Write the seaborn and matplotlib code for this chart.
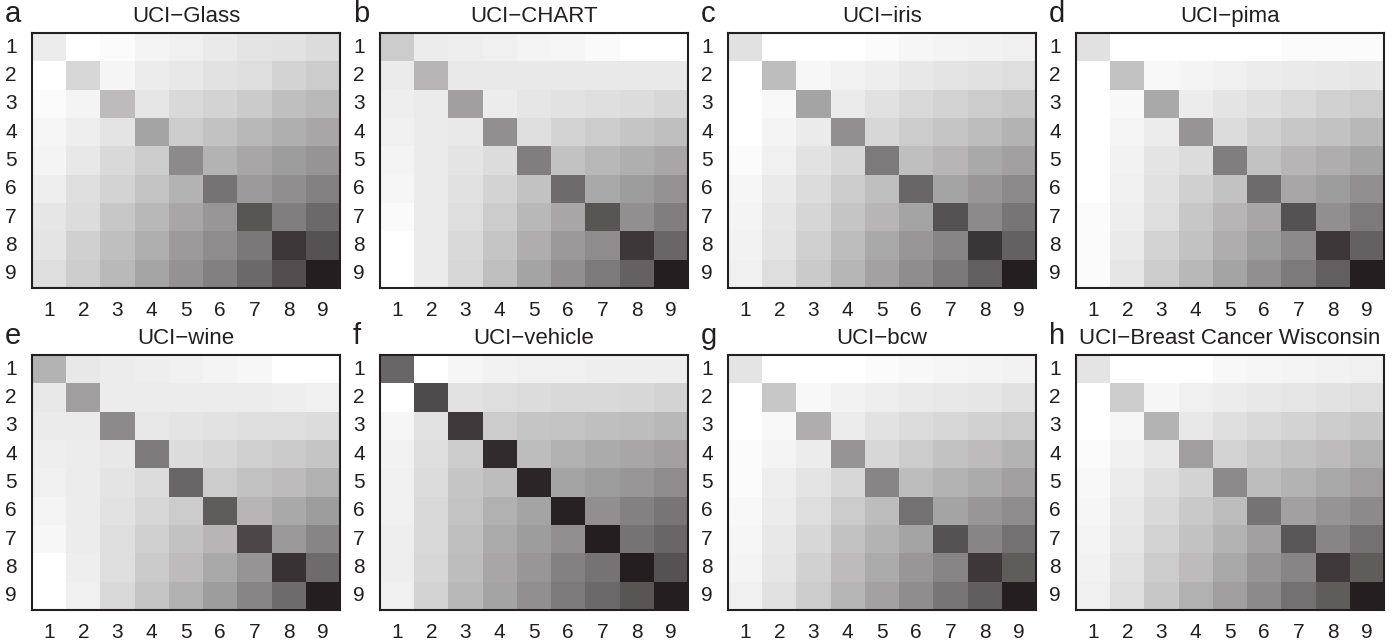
import numpy as np
import matplotlib
matplotlib.use("Agg")
import matplotlib.pyplot as plt
import seaborn as sns
from matplotlib.colors import LinearSegmentedColormap

# Darkness of each cell (0 = white, 220 = full ink), rows/cols are model orders 1..9
labels = [str(i) for i in range(1, 10)]
titles = ["UCI\u2212Glass", "UCI\u2212CHART", "UCI\u2212iris", "UCI\u2212pima",
          "UCI\u2212wine", "UCI\u2212vehicle", "UCI\u2212bcw", "UCI\u2212Breast Cancer Wisconsin"]
letters = ["a", "b", "c", "d", "e", "f", "g", "h"]

glass = [
    [19, 0, 5, 11, 15, 21, 27, 29, 35],
    [0, 40, 10, 19, 23, 29, 33, 43, 50],
    [5, 11, 67, 25, 37, 43, 51, 63, 69],
    [9, 17, 27, 90, 50, 60, 70, 79, 87],
    [12, 23, 37, 50, 115, 75, 87, 97, 105],
    [17, 33, 43, 59, 75, 137, 99, 111, 123],
    [25, 35, 55, 70, 87, 103, 167, 127, 147],
    [27, 47, 63, 79, 99, 113, 133, 195, 170],
    [33, 49, 69, 89, 107, 125, 147, 173, 220],
]
chart = [
    [50, 19, 17, 15, 12, 9, 6, 0, 0],
    [20, 73, 22, 22, 22, 22, 22, 22, 22],
    [17, 20, 95, 19, 25, 29, 31, 35, 40],
    [15, 20, 22, 110, 33, 43, 50, 57, 63],
    [12, 20, 27, 35, 127, 60, 70, 79, 87],
    [9, 20, 30, 43, 60, 145, 85, 97, 107],
    [6, 20, 33, 50, 70, 87, 167, 110, 127],
    [0, 20, 37, 57, 80, 100, 113, 195, 150],
    [0, 20, 40, 63, 90, 110, 130, 155, 220],
]
iris = [
    [30, 0, 0, 0, 5, 9, 11, 13, 15],
    [0, 65, 8, 13, 17, 23, 27, 30, 33],
    [0, 7, 90, 20, 30, 37, 43, 50, 55],
    [0, 11, 20, 110, 40, 50, 57, 65, 75],
    [5, 15, 29, 40, 130, 63, 73, 85, 93],
    [9, 21, 35, 50, 63, 150, 90, 103, 115],
    [11, 25, 41, 57, 73, 90, 170, 115, 135],
    [13, 27, 47, 65, 85, 103, 120, 197, 155],
    [15, 33, 52, 72, 92, 112, 132, 157, 220],
]
pima = [
    [30, 0, 0, 0, 0, 0, 5, 5, 5],
    [0, 60, 7, 11, 15, 19, 21, 23, 25],
    [0, 7, 85, 19, 27, 31, 37, 45, 50],
    [0, 10, 19, 105, 35, 47, 55, 60, 70],
    [0, 13, 27, 35, 127, 60, 73, 80, 90],
    [0, 15, 30, 47, 60, 145, 87, 97, 110],
    [5, 17, 33, 55, 73, 87, 170, 110, 130],
    [5, 21, 43, 60, 80, 97, 115, 195, 155],
    [5, 25, 50, 70, 90, 110, 130, 157, 220],
]
wine = [
    [75, 23, 19, 17, 15, 12, 8, 0, 0],
    [23, 95, 19, 19, 19, 19, 19, 17, 15],
    [20, 20, 115, 23, 27, 29, 31, 33, 35],
    [17, 19, 23, 130, 35, 40, 47, 51, 57],
    [15, 19, 27, 35, 150, 50, 60, 67, 77],
    [12, 19, 29, 40, 50, 160, 73, 85, 97],
    [8, 19, 31, 47, 60, 73, 180, 100, 120],
    [0, 17, 33, 51, 67, 85, 105, 200, 145],
    [0, 15, 37, 57, 77, 97, 120, 145, 220],
]
vehicle = [
    [150, 0, 9, 13, 15, 15, 17, 17, 17],
    [0, 177, 29, 33, 35, 37, 37, 39, 43],
    [9, 29, 193, 50, 57, 59, 63, 65, 70],
    [13, 33, 50, 207, 65, 77, 83, 87, 93],
    [15, 35, 57, 65, 213, 90, 97, 103, 113],
    [15, 37, 59, 77, 90, 217, 110, 123, 135],
    [17, 37, 63, 83, 97, 110, 220, 137, 150],
    [17, 39, 65, 87, 103, 123, 137, 220, 170],
    [15, 43, 70, 90, 110, 130, 147, 167, 220],
]
bcw = [
    [27, 0, 0, 0, 5, 7, 9, 11, 13],
    [0, 55, 7, 13, 17, 21, 23, 25, 30],
    [0, 7, 80, 19, 29, 35, 40, 45, 50],
    [5, 11, 19, 105, 40, 50, 60, 67, 75],
    [5, 17, 27, 40, 120, 65, 75, 83, 93],
    [7, 19, 33, 50, 65, 140, 90, 103, 113],
    [9, 23, 40, 60, 75, 90, 170, 120, 140],
    [11, 25, 45, 67, 83, 103, 120, 195, 160],
    [15, 30, 50, 72, 92, 112, 135, 158, 220],
]
breast_cancer = [
    [27, 0, 0, 0, 7, 9, 11, 13, 15],
    [0, 50, 9, 15, 19, 23, 25, 29, 33],
    [0, 9, 75, 23, 31, 37, 43, 50, 55],
    [5, 15, 23, 95, 43, 53, 60, 67, 77],
    [7, 19, 31, 43, 115, 65, 75, 85, 95],
    [9, 23, 37, 53, 65, 137, 93, 105, 115],
    [11, 25, 43, 60, 75, 93, 165, 120, 140],
    [13, 29, 50, 67, 85, 105, 120, 193, 160],
    [15, 33, 55, 77, 95, 115, 140, 160, 220],
]
matrices = [glass, chart, iris, pima, wine, vehicle, bcw, breast_cancer]

sns.set_theme(style="white")
plt.rcParams["font.family"] = ["Liberation Sans", "DejaVu Sans"]

INK = "#231f20"
W, H = 1397, 643
fig = plt.figure(figsize=(W / 100, H / 100), dpi=100)
fig.patch.set_facecolor("white")
cmap = LinearSegmentedColormap.from_list("ink", ["#ffffff", INK])

lefts = [32, 380, 728, 1076]
tops = [33, 355]
aw, ah = 308, 255

for k, (mat, title, letter) in enumerate(zip(matrices, titles, letters)):
    r, c = divmod(k, 4)
    x0, y0 = lefts[c], tops[r]
    ax = fig.add_axes([x0 / W, 1 - (y0 + ah) / H, aw / W, ah / H])
    sns.heatmap(np.array(mat, dtype=float), ax=ax, cmap=cmap, vmin=0, vmax=220,
                cbar=False, xticklabels=labels, yticklabels=labels)
    for s in ax.spines.values():
        s.set_visible(True)
        s.set_linewidth(1.5)
        s.set_color(INK)
    ax.tick_params(axis="both", direction="in", length=4, width=0.8, color=INK,
                   top=True, bottom=True, left=True, right=True,
                   labeltop=False, labelright=False, labelsize=15, labelcolor=INK)
    ax.tick_params(axis="x", pad=9)
    ax.tick_params(axis="y", pad=11)
    plt.setp(ax.get_yticklabels(), rotation=0)
    plt.setp(ax.get_xticklabels(), rotation=0)
    base = 1 - (y0 - 11) / H
    fig.text((x0 + aw / 2) / W, base, title, ha="center", va="baseline",
             fontsize=16, color=INK)
    fig.text((x0 - 27) / W, base, letter, ha="left", va="baseline",
             fontsize=21, color=INK)

fig.savefig("out.png", dpi=100, facecolor="white")
